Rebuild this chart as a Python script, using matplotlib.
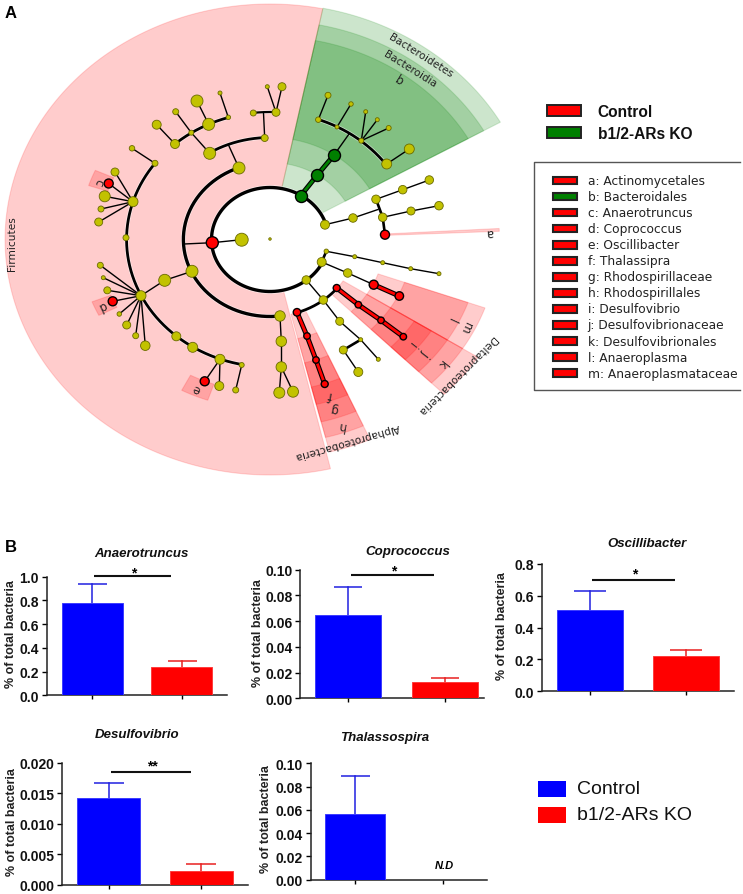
import numpy as np
import matplotlib
matplotlib.use('Agg')
import matplotlib.pyplot as plt
from matplotlib.patches import Polygon, Rectangle

W, H = 743, 895
CX, CY, XSCALE = 270.0, 240.5, 1.125

# ---- panel A data (angle in deg, radius and xy in px)
# sector: theta1, theta2, r1, r2, colour
sectors_green = [(29.8, 78.5, 52, 236), (29.8, 78.5, 77, 219), (29.8, 78.5, 102, 203)]
sectors_red = [
    (78.5, 283.2, 52, 235.5),
    (-76, -66, 77, 219), (-76, -66, 102, 204), (-76, -66, 127, 188), (-76, -66, 152, 170),
    (-45, -32.5, 77, 219), (-45, -32.5, 102, 203), (-45, -32.5, 127, 187), (-45, -32.5, 152, 170),
    (-32.5, -19.7, 102, 203), (-32.5, -19.7, 127, 187),
    (156, 161.5, 152, 170), (201.5, 206.5, 152, 170), (242.5, 251, 153, 170),
    (2.3, 3.1, 102, 204),
]

# arc: radius, theta1, theta2, width
tree_arcs = [
    (52, 16.8, 333.7, 2.4), (77, 111, 277, 2.4), (77, -71.8, -39.3, 2.0),
    (127.5, 143, 259, 2.0), (102, 92.7, 122, 2.0), (127.5, 106.9, 131.5, 2.0),
    (127.5, 87.6, 96.7, 1.6), (127.5, 36, 70.3, 2.0),
]

yellow_x = [270, 241.7, 239, 209.7, 264.7, 253.3, 276, 267.3, 282, 175, 191.3, 208.7, 228.3, 197, 220,
            175.7, 156.7, 155, 132, 133, 115, 104.7, 101, 98.7, 126, 100.3, 103.3, 107.3, 141, 164.7,
            192, 119.3, 126.7, 135.7, 145.3, 176.3, 192.7, 220, 241.7, 219.3, 235.7, 280, 281.3, 281.3,
            279.3, 293, 328, 351, 318.3, 337, 361.3, 365.7, 377.3, 388.7, 386.7, 409.3, 325, 353, 382.7,
            376, 402.7, 429.3, 411, 439, 306.3, 321.7, 326.3, 354.7, 382.7, 410.7, 439, 347.7, 323.3,
            339.7, 360.7, 343.3, 378.3, 358.3]
yellow_y = [240, 240.7, 169, 154.3, 139, 114, 113.3, 87.7, 87.7, 145, 133.7, 125.3, 118.3, 102, 94,
            112.7, 125.7, 164.3, 149.3, 202.7, 173, 197.3, 210, 223, 238.7, 266.3, 278.7, 291.3, 296.7, 281.3,
            272.3, 315, 326, 336.7, 346.7, 337.3, 348.3, 360.3, 366, 387, 391, 317, 342.3, 368,
            393.7, 392.7, 96.3, 105, 120.7, 128, 141.7, 112.7, 120.7, 129, 165, 150, 225.7, 219, 218.3,
            200.3, 190.7, 181, 212, 206.7, 281, 263, 252.3, 257.7, 263.7, 269.7, 274.7, 274, 301,
            322.3, 340.7, 351, 360.3, 373]
yellow_d = [2.5, 13, 12, 12, 7, 6, 8, 4, 8, 9, 5, 12, 4.5, 12, 4,
            6, 9, 6, 5.5, 10, 8, 11, 6, 8, 6, 6, 4, 7, 10, 12,
            12, 4.5, 8, 6, 9.5, 9, 10, 10, 5, 9, 6, 10.5, 10.5, 10.5,
            11, 11, 6, 4.5, 5.5, 4, 5, 4, 4, 5, 10, 10, 9, 8.5, 8.5,
            8.5, 8.5, 8.5, 8, 8.5, 8.5, 9, 4.5, 4, 4, 4, 4, 8.5, 8.5,
            8, 4, 8, 4, 9]
red_x = [212.3, 108.7, 112.7, 204.7, 385, 373.7, 399.3, 336.7, 358.3, 381, 403.3, 297, 307, 316, 324.7]
red_y = [243.7, 184.5, 302.3, 382.3, 235.7, 285.7, 297, 289, 305.7, 321.3, 337.7, 313.3, 337, 361, 385]
red_d = [12, 9, 9, 9, 9, 9, 8.5, 7, 6.5, 6.5, 6.5, 7.5, 6.5, 6.5, 7]
green_x = [300.7, 317.3, 334.3]
green_y = [196.7, 176, 155.7]

thin_links = [
    (241.7, 240.7, 212.3, 243.7), (212.3, 243.7, 184, 245), (239, 169, 228.5, 146),
    (264.7, 139, 263.5, 114), (276, 113.3, 267.3, 87.7), (276, 113.3, 282, 87.7),
    (209.7, 154.3, 191.3, 133.7), (175, 145, 156.7, 125.7), (191.3, 133.7, 175.7, 112.7),
    (208.7, 125.3, 197, 102), (228.3, 118.3, 220, 94), (155, 164.3, 132, 149.3),
    (133, 202.7, 115, 173), (133, 202.7, 108.7, 184.5), (133, 202.7, 104.7, 197.3),
    (133, 202.7, 101, 210), (133, 202.7, 98.7, 223),
    (141, 296.7, 100.3, 266.3), (141, 296.7, 103.3, 278.7), (141, 296.7, 107.3, 291.3),
    (141, 296.7, 112.7, 302.3), (141, 296.7, 119.3, 315), (141, 296.7, 126.7, 326),
    (141, 296.7, 135.7, 336.7), (141, 296.7, 145.3, 346.7),
    (141, 296.7, 164.7, 281.3), (164.7, 281.3, 192, 272.3),
    (220, 360.3, 204.7, 382.3), (220, 360.3, 219.3, 387), (241.7, 366, 235.7, 391),
    (280, 317, 281.3, 342.3), (281.3, 342.3, 281.3, 368), (281.3, 368, 279.3, 393.7), (281.3, 368, 293, 392.7),
    (318.3, 120.7, 328, 96.3), (337, 128, 351, 105), (361.3, 141.7, 365.7, 112.7),
    (361.3, 141.7, 377.3, 120.7), (361.3, 141.7, 388.7, 129), (386.7, 165, 409.3, 150),
    (334.3, 155.7, 349, 135), (325, 225.7, 353, 219), (353, 219, 378, 210.5),
    (376, 200.3, 402.7, 190.7), (402.7, 190.7, 429.3, 181), (382.7, 218.3, 411, 212), (411, 212, 439, 206.7),
    (326.3, 252.3, 354.7, 257.7), (354.7, 257.7, 382.7, 263.7), (382.7, 263.7, 410.7, 269.7),
    (410.7, 269.7, 439, 274.7), (321.7, 263, 347.7, 274), (347.7, 274, 373.7, 285.7),
    (306.3, 281, 323.3, 301), (323.3, 301, 339.7, 322.3), (339.7, 322.3, 360.7, 340.7),
    (360.7, 340.7, 378.3, 360.3), (343.3, 351, 358.3, 373),
]
thick_links = [(376, 200.3, 382.7, 218.3), (382.7, 218.3, 385, 235.7), (321.7, 263, 326.3, 252.3),
               (360.7, 340.7, 343.3, 351)]
red_links = [(373.7, 285.7, 399.3, 297), (336.7, 289, 358.3, 305.7), (358.3, 305.7, 381, 321.3),
             (381, 321.3, 403.3, 337.7), (297, 313.3, 307, 337), (307, 337, 316, 361), (316, 361, 324.7, 385)]
green_links = [(300.7, 196.7, 317.3, 176), (317.3, 176, 334.3, 155.7)]

# text on the cladogram: label, x, y, rotation
clade_labels = [
    ('Firmicutes', 12.5, 244, 90), ('Bacteroidetes', 420.7, 56, -32), ('Bacteroidia', 410, 69, -32),
    ('b', 399, 81, -32), ('a', 489.5, 233, 183), ('c', 99, 182, 250), ('d', 102, 306, 205),
    ('e', 197, 389, 158), ('f', 330, 395, 170), ('g', 334.5, 409, 170), ('h', 342, 426, 170),
    ('Alphaproteobacteria', 346.7, 441.7, 196), ('Deltaproteobacteria', 456.7, 375, 225),
    ('i', 412, 344, 232), ('j', 425, 353.3, 232), ('k', 441.7, 364, 232), ('l', 451, 320, 245), ('m', 466, 327.7, 245),
]

top_legend = ['Control', 'b1/2-ARs KO']
clade_names = ['a: Actinomycetales', 'b: Bacteroidales', 'c: Anaerotruncus', 'd: Coprococcus', 'e: Oscillibacter',
               'f: Thalassipra', 'g: Rhodospirillaceae', 'h: Rhodospirillales', 'i: Desulfovibrio',
               'j: Desulfovibrionaceae', 'k: Desulfovibrionales', 'l: Anaeroplasma', 'm: Anaeroplasmataceae']
clade_colours = ['red', 'green'] + ['red'] * 11

# ---- panel B data
genus = ['Anaerotruncus', 'Coprococcus', 'Oscillibacter', 'Desulfovibrio', 'Thalassospira']
control_mean = [0.775, 0.065, 0.51, 0.0142, 0.0565]
control_top = [0.935, 0.0865, 0.628, 0.0166, 0.0895]
ko_mean = [0.235, 0.0127, 0.222, 0.0023, 0.0]
ko_top = [0.285, 0.0157, 0.257, 0.0034, 0.0]
y_max = [1.0, 0.10, 0.8, 0.020, 0.10]
y_step = [0.2, 0.02, 0.2, 0.005, 0.02]
y_fmt = ['%.1f', '%.2f', '%.1f', '%.3f', '%.2f']
sig_text = ['*', '*', '*', '**', None]

# layout of each bar panel in px: left, right, top, bottom, tick1, tick2
panel_px = [(46.7, 226.7, 577.7, 696.3, 92.3, 181.7),
            (300, 484, 570.7, 699.3, 348, 445.3),
            (541.7, 734, 564.7, 692.3, 590.3, 686),
            (62.3, 247.7, 763.7, 886, 108.7, 201.3),
            (310.7, 486.7, 764.3, 880.7, 355, 442.7)]
bar_w_px = [61, 66, 65.7, 63.3, 59.7]
cap_px = [29, 28, 32, 30, 29]
title_xy = [(141.7, 554), (407.5, 551.7), (646.7, 543.7), (137.3, 735), (385, 737.7)]
ylabel_xy = [(10.7, 634), (258, 633), (502.3, 626), (11.7, 821.7), (265.7, 819)]
sig_px = [(94.3, 171, 577.3, 133.7, 573), (350.7, 434, 576.3, 393.3, 571), (592.3, 675, 581, 635, 574.5),
          (110.7, 190.7, 773, 152, 766)]

plt.rcParams['font.family'] = ['Liberation Sans', 'DejaVu Sans']
fig = plt.figure(figsize=(W / 100, H / 100), dpi=100)

# px overlay for the cladogram and all the hand placed bits
ov = fig.add_axes([0, 0, 1, 1])
ov.set_xlim(0, W)
ov.set_ylim(H, 0)
ov.axis('off')


def ring(t1, t2, r1, r2):
    t = np.radians(np.linspace(t1, t2, 160))
    xo = CX + XSCALE * r2 * np.cos(t)
    yo = CY - r2 * np.sin(t)
    xi = CX + XSCALE * r1 * np.cos(t[::-1])
    yi = CY - r1 * np.sin(t[::-1])
    return np.column_stack([np.r_[xo, xi], np.r_[yo, yi]])


for s in sectors_red:
    ov.add_patch(Polygon(ring(*s), closed=True, fc=(1, 0, 0, 0.2), ec=(1, 0, 0, 0.15), lw=0.8, zorder=1))
for s in sectors_green:
    ov.add_patch(Polygon(ring(*s), closed=True, fc=(0, 0.5, 0, 0.2), ec=(0, 0.5, 0, 0.15), lw=0.8, zorder=1))

for r, t1, t2, lw in tree_arcs:
    t = np.radians(np.linspace(t1, t2, 200))
    ax_x = CX + XSCALE * r * np.cos(t)
    ax_y = CY - r * np.sin(t)
    ov.plot(ax_x, ax_y, color='white', lw=lw + 1.0, alpha=0.6, zorder=2, solid_capstyle='butt')
    ov.plot(ax_x, ax_y, color='black', lw=lw, zorder=3, solid_capstyle='round')

for x1, y1, x2, y2 in thin_links:
    ov.plot([x1, x2], [y1, y2], color='black', lw=1.0, zorder=3)
for x1, y1, x2, y2 in thick_links:
    ov.plot([x1, x2], [y1, y2], color='black', lw=1.9, zorder=3)
for x1, y1, x2, y2 in red_links:
    ov.plot([x1, x2], [y1, y2], color='black', lw=3.6, zorder=3)
    ov.plot([x1, x2], [y1, y2], color='#ff0000', lw=2.0, zorder=4)
for x1, y1, x2, y2 in green_links:
    ov.plot([x1, x2], [y1, y2], color='black', lw=3.6, zorder=3)
    ov.plot([x1, x2], [y1, y2], color='#008000', lw=2.0, zorder=4)

ov.scatter(yellow_x, yellow_y, s=(np.array(yellow_d) * 0.72) ** 2, c='#c2c200', edgecolors='#6a6a00', linewidths=0.6, zorder=5)
ov.scatter(red_x, red_y, s=(np.array(red_d) * 0.72) ** 2, c='#ff0000', edgecolors='black', linewidths=1.0, zorder=5)
ov.scatter(green_x, green_y, s=(12 * 0.72) ** 2, c='#008000', edgecolors='black', linewidths=1.0, zorder=5)

for label, x, y, rot in clade_labels:
    ov.text(x, y, label, rotation=rot, rotation_mode='anchor', ha='center', va='center',
            family='DejaVu Sans', fontsize=8.6 if len(label) == 1 else 7.6, color='#222222', zorder=6)

# panel letters
ov.text(5, 13, 'A', fontsize=12, fontweight='bold', va='center')
ov.text(5, 548, 'B', fontsize=12, fontweight='bold', va='center')

# group legend at top right
for i, (name, col) in enumerate(zip(top_legend, ['#ff0000', '#008000'])):
    y = 111.2 + i * 22
    ov.add_patch(Rectangle((547, y - 5), 33.5, 10.5, fc=col, ec='#222222', lw=1.4, zorder=3))
    ov.text(597.7, y + 1, name, fontsize=11.2, fontweight='bold', va='center', color='#111111')

# clade key box, open on the right
ov.plot([740, 533.7, 533.7, 740], [162.7, 162.7, 390.7, 390.7], color='#555555', lw=1.0, zorder=2)
for i, (name, col) in enumerate(zip(clade_names, clade_colours)):
    y = 181.7 + i * 16.03
    ov.add_patch(Rectangle((552.5, y - 3.7), 24.5, 7.4, fc='#ff0000' if col == 'red' else '#008000',
                           ec='#222222', lw=1.5, zorder=3))
    ov.text(587.7, y, name, family='DejaVu Sans', fontsize=8.8, va='center', color='#222222', zorder=3)

# bar panels
for i in range(5):
    left, right, top, bottom, t1, t2 = panel_px[i]
    ax = fig.add_axes([left / W, 1 - bottom / H, (right - left) / W, (bottom - top) / H])
    ax.patch.set_alpha(0)
    per_cat = t2 - t1
    ax.set_xlim((left - t1) / per_cat, (right - t1) / per_cat)
    ax.set_ylim(0, y_max[i])
    w = bar_w_px[i] / per_cat
    cap = cap_px[i] * 0.72

    ax.bar(0, control_mean[i], w, color='#0000ff', edgecolor='#3c3cff', lw=0.7, zorder=3)
    ax.plot([0, 0], [control_mean[i], control_top[i]], color='#2020e0', lw=1.1, zorder=2, clip_on=False)
    ax.plot([0], [control_top[i]], marker='_', ms=cap, mew=1.1, color='#2020e0', zorder=2, clip_on=False)
    if ko_mean[i] > 0:
        ax.bar(1, ko_mean[i], w, color='#ff0000', edgecolor='#ff3c3c', lw=0.7, zorder=3)
        ax.plot([1, 1], [ko_mean[i], ko_top[i]], color='#e82020', lw=1.1, zorder=2, clip_on=False)
        ax.plot([1], [ko_top[i]], marker='_', ms=cap, mew=1.1, color='#e82020', zorder=2, clip_on=False)

    ax.set_xticks([0, 1])
    ax.set_xticklabels([])
    ticks = np.arange(0, y_max[i] + y_step[i] / 2, y_step[i])
    ax.set_yticks(ticks)
    ax.set_yticklabels([y_fmt[i] % v for v in ticks], fontsize=10, fontweight='bold', color='#111111')
    ax.tick_params(axis='y', length=3.5, width=1.0, pad=2)
    ax.tick_params(axis='x', length=3.0, width=1.0)
    for side in ['top', 'right']:
        ax.spines[side].set_visible(False)
    for side in ['left', 'bottom']:
        ax.spines[side].set_linewidth(1.1)
        ax.spines[side].set_color('#222222')

    tx, ty = title_xy[i]
    ov.text(tx, ty, genus[i], fontsize=9.5, fontweight='bold', fontstyle='italic', ha='center', va='center', color='#111111')
    lx, ly = ylabel_xy[i]
    ov.text(lx, ly, '% of total bacteria', fontsize=9, fontweight='bold', rotation=90, ha='center', va='center', color='#222222')

    if sig_text[i]:
        x1, x2, y, sx, sy = sig_px[i]
        ov.plot([x1, x2], [y, y], color='#111111', lw=1.5, solid_capstyle='butt')
        ov.text(sx, sy, sig_text[i], fontsize=10, fontweight='bold', ha='center', va='center')

ov.text(444.7, 865.7, 'N.D', fontsize=8, fontweight='bold', fontstyle='italic', family='Liberation Sans',
        ha='center', va='center')

# bottom legend
for i, (name, col) in enumerate(zip(top_legend, ['#0000ff', '#ff0000'])):
    y0 = 781.7 + i * 26.6
    ov.add_patch(Rectangle((537.7, y0), 28, 16, fc=col, ec='none'))
    ov.text(577.3, y0 + 7.5, name, fontsize=14, va='center', color='#111111')

fig.savefig('out.png', dpi=100)
